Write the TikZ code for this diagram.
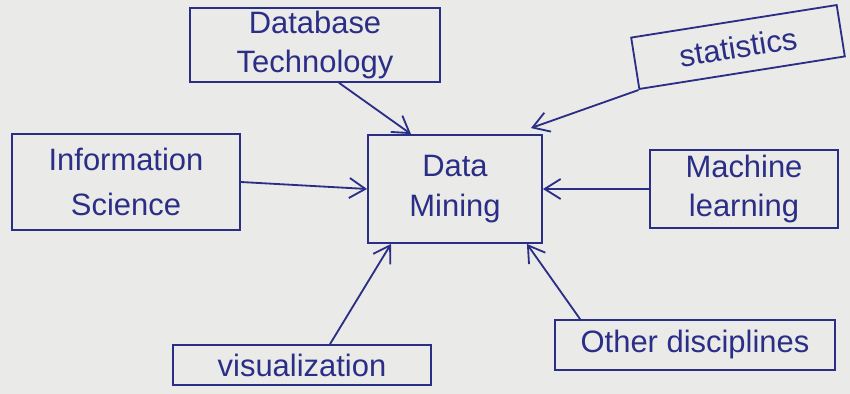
\documentclass[tikz,border=0pt]{standalone}
\usepackage{fontspec}
\setmainfont{Liberation Sans}
\usetikzlibrary{arrows.meta,positioning}
\definecolor{ink}{HTML}{2B2E86}
\definecolor{paper}{HTML}{EAEAE8}

\begin{document}
\begin{tikzpicture}[
        x=0.025cm, y=-0.025cm,
        box/.style={rectangle, draw=ink, line width=1.3pt, text=ink, align=center, inner sep=2pt, font=\fontsize{22}{28}\selectfont},
        arrow/.style={-{Straight Barb[length=4mm,width=5mm]}, draw=ink, line width=1.3pt}
    ]
        \fill[paper] (0,0) rectangle (850,394);
        \useasboundingbox (0,0) rectangle (850,394);

        \node[box, minimum width=4.35cm, minimum height=2.7cm] (mining) at (455,189) {Data\\Mining};
        \node[box, minimum width=6.25cm, minimum height=1.6cm] (dbtech) at (315,45) {Database\\Technology};
        \node[box, minimum width=5.2cm, minimum height=1.3cm, rotate=9] (stats) at (738,47) {statistics};
        \node[box, minimum width=5.7cm, minimum height=2.4cm] (infosci) at (126,182) {Information\\[4pt]Science};
        \node[box, minimum width=4.7cm, minimum height=1.95cm] (ml) at (744,189) {Machine\\learning};
        \node[box, minimum width=6.45cm, minimum height=1cm] (vis) at (302,365) {visualization};
        \node[box, minimum width=7cm, minimum height=1.25cm] (other) at (695,345) {Other disciplines};

        \draw[arrow] ([xshift=0.6cm]dbtech.south) -- ([xshift=-1.1cm]mining.north);
        \draw[arrow] (stats.south west) -- ([xshift=-0.3cm, yshift=0.15cm]mining.north east);
        \draw[arrow] (infosci.east) -- (mining.west);
        \draw[arrow] (ml.west) -- (mining.east);
        \draw[arrow] ([xshift=0.7cm]vis.north) -- ([xshift=-1.6cm]mining.south);
        \draw[arrow] ([xshift=0.65cm]other.north west) -- ([xshift=-0.4cm]mining.south east);
    \end{tikzpicture}
\end{document}
